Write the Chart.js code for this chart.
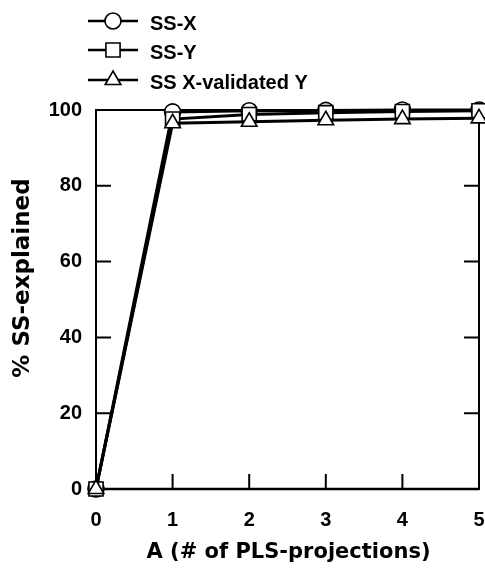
<!DOCTYPE html>
<html>
<head>
<meta charset="utf-8">
<script src="https://cdn.jsdelivr.net/npm/chart.js@4"></script>
<style>
  html, body { margin: 0; padding: 0; background: #fff; }
  canvas { display: block; }
</style>
</head>
<body>
<canvas id="c" width="485" height="568"></canvas>
<script>
// Number of PLS projections (A) and cumulative % sum of squares explained
const components = [0, 1, 2, 3, 4, 5];
const ssX = [0, 99.5, 99.8, 99.9, 100, 100];
const ssY = [0, 97.6, 98.8, 99.3, 99.6, 99.8];
const ssXvalY = [0, 96.5, 96.9, 97.3, 97.6, 97.8];
const seriesNames = ['SS-X', 'SS-Y', 'SS X-validated Y'];
const xTicks = [0, 1, 2, 3, 4, 5];
const yTicks = [0, 20, 40, 60, 80, 100];
const xTitle = 'A (# of PLS-projections)';
const yTitle = '% SS-explained';

const toPoints = vals => vals.map((v, i) => ({ x: components[i], y: v }));

const tickFont = { family: 'Liberation Sans, Arial, sans-serif', size: 20, weight: 'bold' };

function series(label, values, style, radius, order) {
  return {
    label,
    data: toPoints(values),
    borderColor: '#000',
    borderWidth: 3,
    pointStyle: style,
    pointRadius: radius,
    pointHoverRadius: radius,
    pointBackgroundColor: '#fff',
    pointBorderColor: '#000',
    pointBorderWidth: 1.6,
    tension: 0,
    clip: false,
    order
  };
}

// Box frame with inward-pointing ticks, drawn from the chart's own scales
const framePlugin = {
  id: 'frame',
  beforeDatasetsDraw(chart) {
    const { ctx, chartArea: a, scales: { x, y } } = chart;
    ctx.save();
    ctx.strokeStyle = '#000';
    ctx.lineWidth = 2;
    ctx.strokeRect(a.left, a.top, a.right - a.left, a.bottom - a.top);
    ctx.lineWidth = 2.5;
    ctx.beginPath();
    ctx.moveTo(a.left, a.bottom);
    ctx.lineTo(a.right, a.bottom);
    ctx.stroke();
    const len = 15;
    ctx.lineWidth = 2;
    ctx.beginPath();
    yTicks.slice(1, -1).forEach(v => {
      const py = y.getPixelForValue(v);
      ctx.moveTo(a.left, py); ctx.lineTo(a.left + len, py);
      ctx.moveTo(a.right, py); ctx.lineTo(a.right - len, py);
    });
    xTicks.slice(1, -1).forEach(v => {
      const px = x.getPixelForValue(v);
      ctx.moveTo(px, a.bottom); ctx.lineTo(px, a.bottom - len);
    });
    ctx.stroke();
    ctx.restore();
  }
};

// Axis titles
const titlePlugin = {
  id: 'axisTitles',
  afterDraw(chart) {
    const { ctx, chartArea: a } = chart;
    ctx.save();
    ctx.fillStyle = '#000';
    ctx.textAlign = 'center';
    ctx.textBaseline = 'middle';
    ctx.font = 'bold 21px "DejaVu Sans", sans-serif';
    ctx.fillText(xTitle, (a.left + a.right) / 2 + 1, 553);
    ctx.translate(23, 278);
    ctx.rotate(-Math.PI / 2);
    ctx.font = 'bold 23px "DejaVu Sans", sans-serif';
    ctx.fillText(yTitle, 0, 0);
    ctx.restore();
  }
};

// Vertical legend in the top-left corner, using each dataset's line and marker
const legendPlugin = {
  id: 'stackedLegend',
  afterDraw(chart) {
    const { ctx } = chart;
    const rows = [21, 50, 80];
    ctx.save();
    chart.data.datasets.forEach((ds, i) => {
      const ly = rows[i];
      ctx.strokeStyle = '#000';
      ctx.lineWidth = 2.5;
      ctx.beginPath();
      ctx.moveTo(88, ly);
      ctx.lineTo(138, ly);
      ctx.stroke();
      ctx.fillStyle = '#fff';
      ctx.lineWidth = ds.pointBorderWidth;
      Chart.helpers.drawPoint(ctx, {
        pointStyle: ds.pointStyle,
        radius: ds.pointRadius,
        rotation: 0,
        borderWidth: ds.pointBorderWidth
      }, 113, ly);
      ctx.fillStyle = '#000';
      ctx.font = 'bold 20px "Liberation Sans", Arial, sans-serif';
      ctx.textAlign = 'left';
      ctx.textBaseline = 'middle';
      ctx.fillText(ds.label, 150, ly + 3);
    });
    ctx.restore();
  }
};

new Chart(document.getElementById('c'), {
  type: 'line',
  data: {
    datasets: [
      series(seriesNames[0], ssX, 'circle', 8, 2),
      series(seriesNames[1], ssY, 'rect', 10, 1),
      series(seriesNames[2], ssXvalY, 'triangle', 9, 0)
    ]
  },
  options: {
    responsive: false,
    animation: false,
    layout: { autoPadding: false, padding: { top: 110, right: 6, left: 0, bottom: 0 } },
    plugins: { legend: { display: false }, tooltip: { enabled: false } },
    scales: {
      x: {
        type: 'linear',
        min: 0, max: 5,
        afterBuildTicks(s) { s.ticks = xTicks.map(v => ({ value: v })); },
        afterFit(s) { s.height = 79; s.paddingLeft = 0; s.paddingRight = 0; },
        grid: { display: false, drawTicks: true, tickLength: 19 },
        border: { display: false },
        ticks: { color: '#000', font: tickFont, padding: 0, maxRotation: 0 }
      },
      y: {
        type: 'linear',
        min: 0, max: 100,
        afterBuildTicks(s) { s.ticks = yTicks.map(v => ({ value: v })); },
        afterFit(s) { s.width = 96; s.paddingTop = 0; s.paddingBottom = 0; },
        grid: { display: false, drawTicks: false },
        border: { display: false },
        ticks: { color: '#000', font: tickFont, padding: 14 }
      }
    }
  },
  plugins: [framePlugin, titlePlugin, legendPlugin]
});
</script>
</body>
</html>
